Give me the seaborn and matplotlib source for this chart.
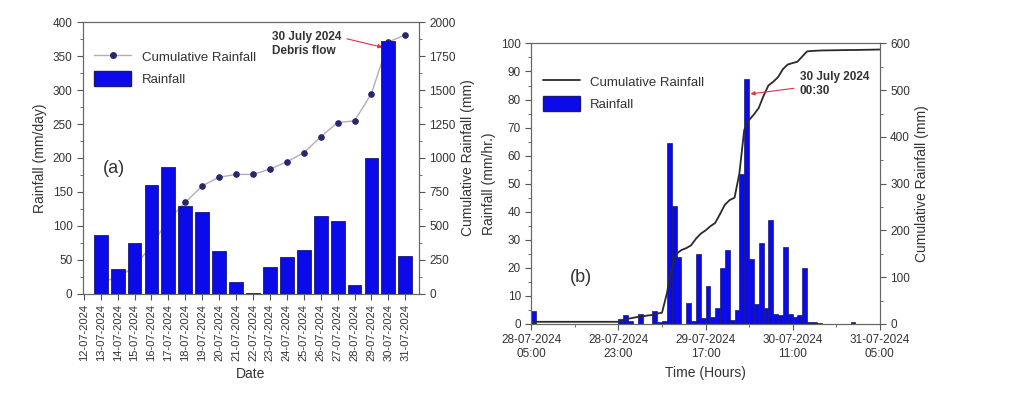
import numpy as np
import pandas as pd
import matplotlib
matplotlib.use('Agg')
import matplotlib.pyplot as plt
import seaborn as sns
from matplotlib.lines import Line2D
from matplotlib.patches import Patch
from matplotlib.ticker import MultipleLocator

# ---- data: daily rainfall (panel a) ----
dates = ['12-07-2024', '13-07-2024', '14-07-2024', '15-07-2024', '16-07-2024',
         '17-07-2024', '18-07-2024', '19-07-2024', '20-07-2024', '21-07-2024',
         '22-07-2024', '23-07-2024', '24-07-2024', '25-07-2024', '26-07-2024',
         '27-07-2024', '28-07-2024', '29-07-2024', '30-07-2024', '31-07-2024']
rain_dates = dates[1:]
daily_rain = [86, 37, 75, 160, 187, 130, 120, 63, 18, 1,
              40, 55, 65, 115, 107, 13, 200, 372, 56]
daily_cum = [86, 123, 198, 358, 545, 673, 795, 859, 879, 879,
             918, 972, 1038, 1155, 1261, 1273, 1474, 1853, 1907]

# ---- data: hourly rainfall (panel b), hours since 28-07-2024 05:00 ----
bar_hours = [0, 18, 19, 20, 22, 25, 26, 27, 28, 29, 30, 32, 33, 34, 35, 36, 37, 38,
             39, 40, 41, 42, 43, 44, 45, 46, 47, 48, 49, 50, 51, 52, 53, 54, 55,
             56, 57, 58, 59, 66]
hourly_rain = [4.5, 1.8, 3, 1.2, 3.6, 4.5, 0.5, 1.2, 64.5, 42, 24, 7.5, 1.2, 25,
               2.2, 13.5, 2.5, 5.5, 20, 26.5, 1.5, 5, 53.5, 87.5, 23, 7, 29, 5.5,
               37, 3.5, 3, 27.5, 3.5, 2.5, 3, 20, 0.6, 0.5, 0.3, 0.8]
cum_hours = [0, 1, 18, 19, 20, 21, 22, 23, 24, 25, 26, 27, 28, 29, 30, 31, 32, 33,
             34, 35, 36, 37, 38, 39, 40, 41, 42, 43, 44, 45, 46, 47, 48, 49, 50,
             51, 52, 53, 54, 55, 56, 57, 58, 60, 66, 67, 72]
hourly_cum = [3, 4.5, 4.5, 8, 11, 13, 15, 16, 18, 19, 22, 24, 65, 118, 150, 158,
              162, 168, 182, 193, 200, 209, 216, 235, 255, 265, 270, 322, 415, 436,
              448, 462, 488, 510, 518, 528, 545, 555, 558, 561, 572, 583, 584, 585,
              586, 586, 587]
time_ticks = [0, 18, 36, 54, 72]
time_labels = ['28-07-2024\n05:00', '28-07-2024\n23:00', '29-07-2024\n17:00',
               '30-07-2024\n11:00', '31-07-2024\n05:00']

sns.set_style('ticks')
plt.rcParams['font.family'] = ['Liberation Sans', 'DejaVu Sans']
plt.rcParams['text.color'] = '#333333'
plt.rcParams['axes.labelcolor'] = '#333333'
plt.rcParams['xtick.color'] = '#555555'
plt.rcParams['ytick.color'] = '#555555'
plt.rcParams['xtick.labelcolor'] = '#333333'
plt.rcParams['ytick.labelcolor'] = '#333333'

BLUE = '#0b0bea'
EDGE = '#1a1a70'

fig = plt.figure(figsize=(10.24, 3.95), dpi=100)
ax1 = fig.add_axes([0.081, 0.256, 0.328, 0.688])
ax2 = fig.add_axes([0.519, 0.180, 0.340, 0.710])

# ---- panel (a) ----
df_day = pd.DataFrame({'date': rain_dates, 'rain': daily_rain})
sns.barplot(data=df_day, x='date', y='rain', order=dates, color=BLUE,
            saturation=1, edgecolor=EDGE, linewidth=0.6, width=0.82, ax=ax1)
ax1b = ax1.twinx()
df_cum = pd.DataFrame({'pos': np.arange(1, len(dates)), 'cum': daily_cum})
sns.lineplot(data=df_cum, x='pos', y='cum', ax=ax1b, color='#b9a9b9', lw=1.0,
             marker='o', markersize=4, markerfacecolor='#27276b',
             markeredgecolor='#27276b')
# line sits behind the bars in panel (a)
ax1.set_zorder(ax1b.get_zorder() + 1)
ax1.patch.set_visible(False)

ax1.set_xlim(-0.05, 19.8)
ax1.set_ylim(0, 400)
ax1b.set_ylim(0, 2000)
ax1.yaxis.set_major_locator(MultipleLocator(50))
ax1.yaxis.set_minor_locator(MultipleLocator(25))
ax1b.yaxis.set_major_locator(MultipleLocator(250))
ax1b.yaxis.set_minor_locator(MultipleLocator(125))
ax1.set_xticks(range(len(dates)))
ax1.set_xticklabels(dates, rotation=90, fontsize=8)
ax1.tick_params(axis='y', labelsize=8.5, length=4)
ax1.tick_params(axis='x', length=4)
ax1b.tick_params(axis='y', labelsize=8.5, length=4)
ax1.tick_params(axis='y', which='minor', length=2.5)
ax1b.tick_params(axis='y', which='minor', length=2.5)
ax1.set_xlabel('Date', fontsize=10)
ax1.set_ylabel('Rainfall (mm/day)', fontsize=10)
ax1b.set_xlabel('')
ax1b.set_ylabel('Cumulative Rainfall (mm)', fontsize=10)
for sp in ax1.spines.values():
    sp.set_visible(True)
    sp.set_color('#666666')

ax1.text(1.1, 185, '(a)', fontsize=13, va='center', ha='left')
ax1b.annotate('30 July 2024\nDebris flow', xy=(17.65, 1815), xytext=(11.1, 1840),
              fontsize=8.5, fontweight='bold', ha='left', va='center',
              arrowprops=dict(arrowstyle='-|>', color='#e03040', lw=0.8,
                              mutation_scale=6, relpos=(1.0, 0.75),
                              shrinkA=2, shrinkB=0))
h_a = [Line2D([0], [0], color='#b9a9b9', lw=1.0, marker='o', markersize=4,
              markerfacecolor='#27276b', markeredgecolor='#27276b'),
       Patch(facecolor=BLUE, edgecolor=EDGE)]
ax1.legend(h_a, ['Cumulative Rainfall', 'Rainfall'], loc='upper left',
           bbox_to_anchor=(0.01, 0.93), frameon=False, fontsize=9.5,
           handlelength=2.8, handleheight=1.4, borderaxespad=0.2)

# ---- panel (b) ----
df_hr = pd.DataFrame({'hour': np.array(bar_hours) + 0.5, 'rain': hourly_rain})
sns.barplot(data=df_hr, x='hour', y='rain', native_scale=True, color=BLUE,
            saturation=1, edgecolor=EDGE, linewidth=0.5, width=1.0, ax=ax2)
ax2b = ax2.twinx()
df_hc = pd.DataFrame({'hour': cum_hours, 'cum': hourly_cum})
sns.lineplot(data=df_hc, x='hour', y='cum', ax=ax2b, color='#2a2a2a', lw=1.3)
ax2.set_xlim(0, 72)
ax2.set_ylim(0, 100)
ax2b.set_ylim(0, 600)
ax2.set_xticks(time_ticks)
ax2.set_xticklabels(time_labels, fontsize=8.5)
ax2.xaxis.set_minor_locator(MultipleLocator(9))
ax2.yaxis.set_major_locator(MultipleLocator(10))
ax2.yaxis.set_minor_locator(MultipleLocator(5))
ax2b.yaxis.set_major_locator(MultipleLocator(100))
ax2b.yaxis.set_minor_locator(MultipleLocator(50))
ax2.tick_params(axis='both', which='major', labelsize=8.5, length=4)
ax2.tick_params(axis='both', which='minor', length=2.5)
ax2b.tick_params(axis='y', which='major', labelsize=8.5, length=4)
ax2b.tick_params(axis='y', which='minor', length=2.5)
ax2.set_xlabel('Time (Hours)', fontsize=10)
ax2.set_ylabel('Rainfall (mm/hr.)', fontsize=10)
ax2b.set_xlabel('')
ax2b.set_ylabel('Cumulative Rainfall (mm)', fontsize=10)
for sp in ax2.spines.values():
    sp.set_visible(True)
    sp.set_color('#666666')
for a in (ax1b, ax2b):
    for sp in a.spines.values():
        sp.set_color('#666666')

ax2.text(7.9, 16.4, '(b)', fontsize=13, va='center', ha='left')
ax2b.annotate('30 July 2024\n00:30', xy=(45.3, 492), xytext=(55.5, 514),
              fontsize=8.5, fontweight='bold', ha='left', va='center',
              arrowprops=dict(arrowstyle='-|>', color='#e03040', lw=0.8,
                              mutation_scale=6, relpos=(0.0, 0.35),
                              shrinkA=2, shrinkB=0))
h_b = [Line2D([0], [0], color='#2a2a2a', lw=1.3),
       Patch(facecolor=BLUE, edgecolor=EDGE)]
ax2b.legend(h_b, ['Cumulative Rainfall', 'Rainfall'], loc='upper left',
            bbox_to_anchor=(0.01, 0.92), frameon=False, fontsize=9.5,
            handlelength=2.8, handleheight=1.4, borderaxespad=0.2)

fig.savefig('out.png', dpi=100)
